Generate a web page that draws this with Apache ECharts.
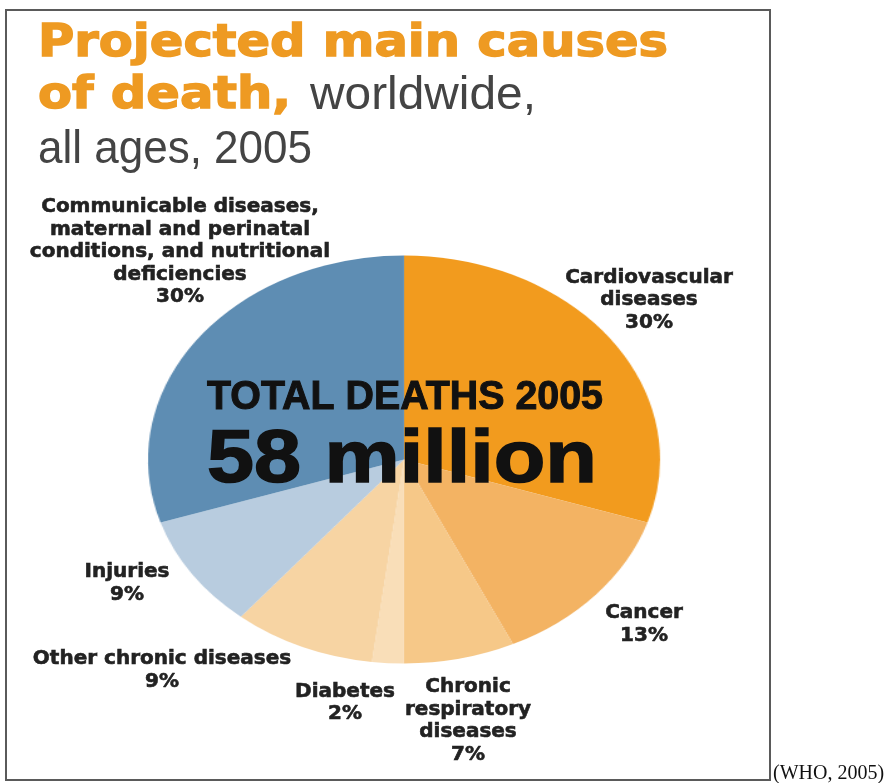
<!DOCTYPE html>
<html><head><meta charset="utf-8">
<script src="https://cdn.jsdelivr.net/npm/echarts/dist/echarts.min.js"></script>
<style>
html,body{margin:0;padding:0;background:#fff;width:891px;height:783px;overflow:hidden;}
#pie{position:absolute;left:0;top:0;width:710px;height:783px;transform-origin:0 0;transform:scaleX(1.2549);}
#main{position:absolute;left:0;top:0;width:891px;height:783px;}
</style></head><body>
<div id="pie"></div><div id="main"></div>
<script>
// ---- data ----
const categories = ['Cardiovascular diseases','Cancer','Chronic respiratory diseases','Diabetes','Other chronic diseases','Injuries','Communicable diseases, maternal and perinatal conditions, and nutritional deficiencies'];
const values = [30, 13, 7, 2, 9, 9, 30];
const labelTexts = ['Cardiovascular\ndiseases','Cancer','Chronic\nrespiratory\ndiseases','Diabetes','Other chronic diseases','Injuries','Communicable diseases,\nmaternal and perinatal\nconditions, and nutritional\ndeficiencies'];
const titleBold1 = 'Projected main causes';
const titleBold2 = 'of death,';
const titleReg2 = 'worldwide,';
const titleReg3 = 'all ages, 2005';
const centerLine1 = 'TOTAL DEATHS 2005';
const centerLine2 = '58 million';
const sourceText = '(WHO, 2005)';

// ---- styles / layout ----
const colors = ['#F29B1E','#F3B363','#F6C888','#F9DEB8','#F7D4A3','#B8CCDF','#5E8DB3'];
const SX = 1.2549;
const pieCenter = [404 / SX, 459.5];
const pieRadius = 204;
const labelPos = [[649,300],[644,624.5],[468,721],[345,703],[162,670.5],[127,583.5],[180,252]];

const ctx = document.createElement('canvas').getContext('2d');
function measure(text, font){ ctx.font = font; return ctx.measureText(text).width; }
function fitScale(text, font, target){ return target / measure(text, font); }

const pieChart = echarts.init(document.getElementById('pie'), null, {renderer:'canvas'});
pieChart.setOption({
  animation:false,
  backgroundColor:'#ffffff',
  series:[{
    type:'pie', center:pieCenter, radius:pieRadius, startAngle:90, clockwise:true,
    label:{show:false}, labelLine:{show:false}, silent:true,
    itemStyle:{borderWidth:0},
    data: categories.map((c,i)=>({name:c, value:values[i], itemStyle:{color:colors[i]}}))
  }]
});

const boldTitleFont = 'bold 44px "DejaVu Sans"';
const regTitleFont = '47px "Liberation Sans"';
const s1 = fitScale(titleBold1, boldTitleFont, 630);
const sReg = fitScale(titleReg3, regTitleFont, 274);
const sReg2 = fitScale(titleReg2, regTitleFont, 226);
const cFont1 = 'bold 40px "Liberation Sans"';
const cFont2 = 'bold 74px "Liberation Sans"';
const sc1 = fitScale(centerLine1, cFont1, 396);
const sc2 = fitScale(centerLine2, cFont2, 390);

function txt(text, x, y, opts){
  return Object.assign({type:'text', x:x, y:y, silent:true, z:100, style:Object.assign({
    text:text, textAlign:'left', textVerticalAlign:'middle', align:'left', verticalAlign:'middle'
  }, opts.style)}, opts.el || {});
}

const orange = '#EE9A22';
const graphics = [];
graphics.push({type:'rect', shape:{x:6,y:10,width:764,height:770}, style:{fill:'none', stroke:'#5a5a5a', lineWidth:2}, silent:true});
graphics.push(txt(titleBold1, 38, 45, {style:{font:boldTitleFont, fill:orange, stroke:orange, lineWidth:1.4}, el:{scaleX:s1}}));
graphics.push(txt(titleBold2, 38, 97, {style:{font:boldTitleFont, fill:orange, stroke:orange, lineWidth:1.4}, el:{scaleX:s1}}));
graphics.push(txt(titleReg2, 310, 96, {style:{font:regTitleFont, fill:'#444444'}, el:{scaleX:sReg2}}));
graphics.push(txt(titleReg3, 38, 150, {style:{font:regTitleFont, fill:'#444444'}, el:{scaleX:sReg}}));
graphics.push(txt(centerLine1, 405, 397.5, {style:{font:cFont1, fill:'#111111', stroke:'#111111', lineWidth:1, textAlign:'center', align:'center'}, el:{scaleX:sc1}}));
graphics.push(txt(centerLine2, 402, 461.5, {style:{font:cFont2, fill:'#111111', stroke:'#111111', lineWidth:1.5, textAlign:'center', align:'center'}, el:{scaleX:sc2}}));
const total = values.reduce((a,b)=>a+b,0);
labelTexts.forEach((t,i)=>{
  const pct = Math.round(values[i]/total*100) + '%';
  graphics.push(txt(t + '\n' + pct, labelPos[i][0], labelPos[i][1], {style:{
    font:'bold 20px "DejaVu Sans"', fill:'#222222', stroke:'#222222', lineWidth:0.6, lineHeight:22.5, textAlign:'center', align:'center'
  }}));
});
graphics.push(txt(sourceText, 773, 774, {style:{font:'20px "Liberation Serif"', fill:'#111111'}}));

const main = echarts.init(document.getElementById('main'), null, {renderer:'canvas'});
main.setOption({animation:false, backgroundColor:'transparent', graphic:{elements:graphics}});
</script>
</body></html>
